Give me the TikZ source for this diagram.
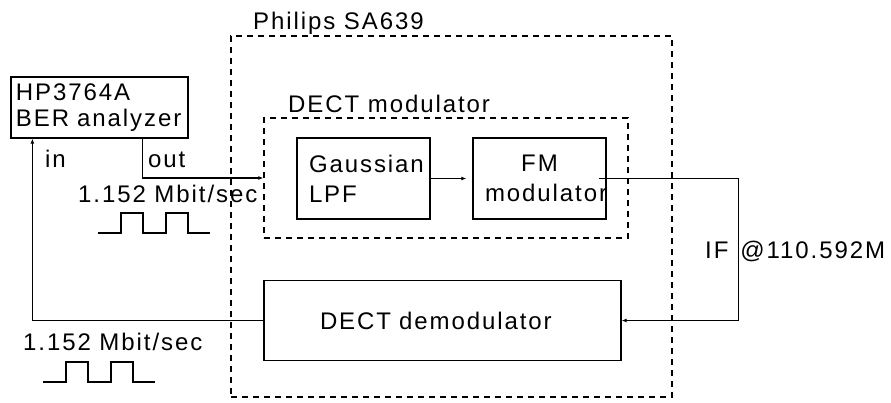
\documentclass[tikz,border=0pt]{standalone}
\usepackage{fontspec}
\setmainfont{Liberation Sans}[LetterSpace=8]
\usetikzlibrary{arrows.meta}

\begin{document}
\begin{tikzpicture}
[x=1pt,y=-1pt,%%%%%%%%%%%%%%%%%%%%%%%%%%%%%%
blk/.style={rectangle,draw=black,line width=1.3pt,inner ysep=0pt},
grp/.style={rectangle,draw=black,line width=1.3pt,dash pattern=on 6pt off 5pt},
lbl/.style={inner sep=0pt,anchor=base west,font=\fontsize{24}{26}\selectfont},
sig/.style={line width=1.3pt,-{Latex[length=5pt,width=4pt]}},
pulse/.style={line width=1.3pt},
]%%%%%%%%%%%%%%%%%%%%%%%%%%%%%%

\useasboundingbox (0,0) rectangle (891,402);

% chip and modulator groups
\node[grp,minimum width=441pt,minimum height=361pt] (sa) at (451.5,216.5){};
\node[lbl] (saname) at (253,29){Philips SA639};
\node[grp,minimum width=364pt,minimum height=120pt] (dmod) at (446,178){};
\node[lbl] (dmodname) at (288,112){DECT modulator};

% blocks
\node[blk,minimum width=177pt,minimum height=61pt,text width=167pt,inner xsep=5pt,align=left,
  font=\fontsize{24}{26}\selectfont] (hp) at (99.5,107.5){HP3764A\\BER analyzer};
\node[blk,minimum width=133pt,minimum height=81pt,text width=109pt,inner xsep=12pt,align=left,
  font=\fontsize{24}{30}\selectfont] (gauss) at (363.5,178.5){Gaussian\\LPF};
\node[blk,minimum width=133pt,minimum height=81pt,text width=109pt,inner xsep=12pt,align=center,
  font=\fontsize{24}{30}\selectfont] (fm) at (539.5,178.5){FM\\modulator};
\node[blk,minimum width=357pt,minimum height=80pt,text width=245pt,inner xsep=56pt,align=left,
  font=\fontsize{24}{26}\selectfont] (demod) at (442.5,320.5){DECT demodulator};

% labels
\node[lbl] (inlbl) at (45,167){in};
\node[lbl] (outlbl) at (148,167){out};
\node[lbl] (rateout) at (78,202){1.152 Mbit/sec};
\node[lbl] (ratein) at (23,350){1.152 Mbit/sec};
\node[lbl] (iflbl) at (705,258){IF\hspace{12pt}@110.592M};

% signal path
\draw[sig] ([xshift=132pt]hp.south west) |- (dmod.west);
\draw[sig,shorten >=6pt] (gauss) -- (fm);
\draw[sig] ([xshift=-8pt]fm.east) -- ++(140,0) |- (demod.east);
\draw[sig] (demod.west) -| ([xshift=22pt]hp.south west);

% bit streams
\foreach \px/\py in {98/233,43/382}{
\draw[pulse] (\px,\py) -- ++(23,0) |- ++(22,-20) |- ++(23,20) |- ++(22,-20) |- ++(22,20);
}
\end{tikzpicture}
\end{document}
